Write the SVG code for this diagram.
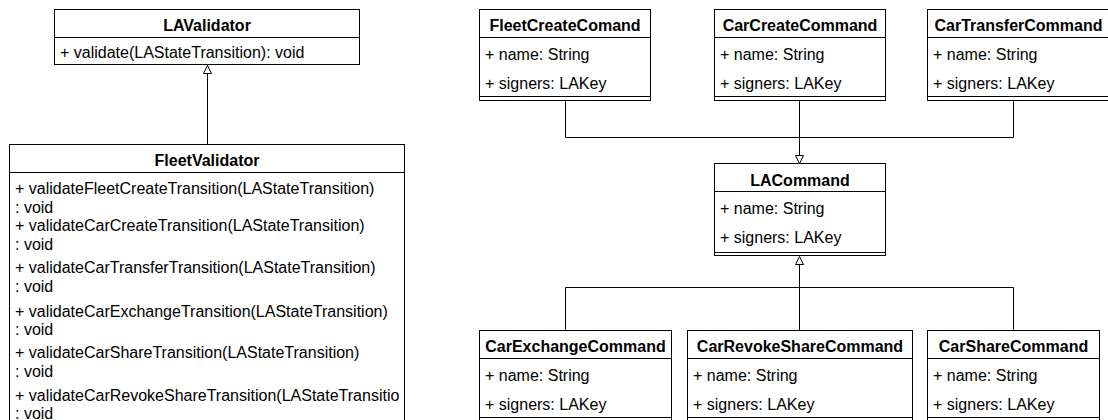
<svg xmlns="http://www.w3.org/2000/svg" width="1108" height="420" viewBox="0 0 1108 420">
  <style>
    .box { fill: #ffffff; stroke: #000000; stroke-width: 1; }
    .sep { fill: none; stroke: #000000; stroke-width: 1; }
    .edge { fill: none; stroke: #000000; stroke-width: 1; }
    .head { fill: #ffffff; stroke: #000000; stroke-width: 1; }
    .title { font-family: "Liberation Sans", Arial, sans-serif; font-size: 16px; font-weight: bold; fill: #000000; text-anchor: middle; }
    .item { font-family: "Liberation Sans", Arial, sans-serif; font-size: 16px; fill: #000000; }
  </style>
  <defs>
    <clipPath id="fleetValidatorClip">
      <rect x="10" y="145" width="394" height="280"/>
    </clipPath>
  </defs>
  <rect x="0" y="0" width="1108" height="420" fill="#ffffff"/>

  <!-- inheritance connectors -->
  <g id="connectors">
    <path class="edge" d="M207.5 144.5 V73.5"/>
    <path class="head" d="M207.5 65.5 L211.5 73.5 L203.5 73.5 Z"/>

    <path class="edge" d="M565.5 100.5 V137.5 H1013.5 V100.5"/>
    <path class="edge" d="M799.5 100.5 V155.5"/>
    <path class="head" d="M799.5 163.5 L803.5 155.5 L795.5 155.5 Z"/>

    <path class="edge" d="M799.5 264.5 V287.5"/>
    <path class="edge" d="M565.5 330.5 V287.5 H1013.5 V330.5"/>
    <path class="edge" d="M799.5 287.5 V330.5"/>
    <path class="head" d="M799.5 256.5 L803.5 264.5 L795.5 264.5 Z"/>
  </g>

  <!-- validators -->
  <g id="LAValidator">
    <rect class="box" x="54.5" y="9.5" width="305" height="55"/>
    <line class="sep" x1="54.5" y1="37.5" x2="359.5" y2="37.5"/>
    <text class="title" x="207" y="31">LAValidator</text>
    <text class="item" x="60" y="58">+ validate(LAStateTransition): void</text>
  </g>

  <g id="FleetValidator">
    <rect class="box" x="9.5" y="144.5" width="395" height="300"/>
    <line class="sep" x1="9.5" y1="172.5" x2="404.5" y2="172.5"/>
    <text class="title" x="207" y="166">FleetValidator</text>
    <g clip-path="url(#fleetValidatorClip)">
      <text class="item" x="15" y="194">+ validateFleetCreateTransition(LAStateTransition)</text>
      <text class="item" x="15" y="213">: void</text>
      <text class="item" x="15" y="231">+ validateCarCreateTransition(LAStateTransition)</text>
      <text class="item" x="15" y="250">: void</text>
      <text class="item" x="15" y="273">+ validateCarTransferTransition(LAStateTransition)</text>
      <text class="item" x="15" y="292">: void</text>
      <text class="item" x="15" y="317">+ validateCarExchangeTransition(LAStateTransition)</text>
      <text class="item" x="15" y="335">: void</text>
      <text class="item" x="15" y="358">+ validateCarShareTransition(LAStateTransition)</text>
      <text class="item" x="15" y="377">: void</text>
      <text class="item" x="15" y="401">+ validateCarRevokeShareTransition(LAStateTransitio</text>
      <text class="item" x="15" y="419">: void</text>
    </g>
  </g>

  <!-- command classes, top row -->
  <g id="FleetCreateComand">
    <rect class="box" x="479.5" y="9.5" width="171" height="91"/>
    <line class="sep" x1="479.5" y1="37.5" x2="650.5" y2="37.5"/>
    <line class="sep" x1="479.5" y1="96.5" x2="650.5" y2="96.5"/>
    <text class="title" x="565" y="31">FleetCreateComand</text>
    <text class="item" x="485" y="60">+ name: String</text>
    <text class="item" x="485" y="88.5">+ signers: LAKey</text>
  </g>

  <g id="CarCreateCommand">
    <rect class="box" x="714.5" y="9.5" width="171" height="91"/>
    <line class="sep" x1="714.5" y1="37.5" x2="885.5" y2="37.5"/>
    <line class="sep" x1="714.5" y1="96.5" x2="885.5" y2="96.5"/>
    <text class="title" x="800" y="31">CarCreateCommand</text>
    <text class="item" x="720" y="60">+ name: String</text>
    <text class="item" x="720" y="88.5">+ signers: LAKey</text>
  </g>

  <g id="CarTransferCommand">
    <rect class="box" x="927.5" y="9.5" width="182" height="91"/>
    <line class="sep" x1="927.5" y1="37.5" x2="1109.5" y2="37.5"/>
    <line class="sep" x1="927.5" y1="96.5" x2="1109.5" y2="96.5"/>
    <text class="title" x="1018.5" y="31">CarTransferCommand</text>
    <text class="item" x="933" y="60">+ name: String</text>
    <text class="item" x="933" y="88.5">+ signers: LAKey</text>
  </g>

  <!-- base command -->
  <g id="LACommand">
    <rect class="box" x="714.5" y="163.5" width="171" height="92"/>
    <line class="sep" x1="714.5" y1="191.5" x2="885.5" y2="191.5"/>
    <line class="sep" x1="714.5" y1="252.5" x2="885.5" y2="252.5"/>
    <text class="title" x="800" y="185.5">LACommand</text>
    <text class="item" x="720" y="214">+ name: String</text>
    <text class="item" x="720" y="242.5">+ signers: LAKey</text>
  </g>

  <!-- command classes, bottom row -->
  <g id="CarExchangeCommand">
    <rect class="box" x="479.5" y="330.5" width="192" height="100"/>
    <line class="sep" x1="479.5" y1="358.5" x2="671.5" y2="358.5"/>
    <line class="sep" x1="479.5" y1="417.5" x2="671.5" y2="417.5"/>
    <text class="title" x="575.5" y="352">CarExchangeCommand</text>
    <text class="item" x="485" y="381">+ name: String</text>
    <text class="item" x="485" y="409.5">+ signers: LAKey</text>
  </g>

  <g id="CarRevokeShareCommand">
    <rect class="box" x="687.5" y="330.5" width="225" height="100"/>
    <line class="sep" x1="687.5" y1="358.5" x2="912.5" y2="358.5"/>
    <line class="sep" x1="687.5" y1="417.5" x2="912.5" y2="417.5"/>
    <text class="title" x="800" y="352">CarRevokeShareCommand</text>
    <text class="item" x="693" y="381">+ name: String</text>
    <text class="item" x="693" y="409.5">+ signers: LAKey</text>
  </g>

  <g id="CarShareCommand">
    <rect class="box" x="927.5" y="330.5" width="172" height="100"/>
    <line class="sep" x1="927.5" y1="358.5" x2="1099.5" y2="358.5"/>
    <line class="sep" x1="927.5" y1="417.5" x2="1099.5" y2="417.5"/>
    <text class="title" x="1013.5" y="352">CarShareCommand</text>
    <text class="item" x="933" y="381">+ name: String</text>
    <text class="item" x="933" y="409.5">+ signers: LAKey</text>
  </g>
</svg>
